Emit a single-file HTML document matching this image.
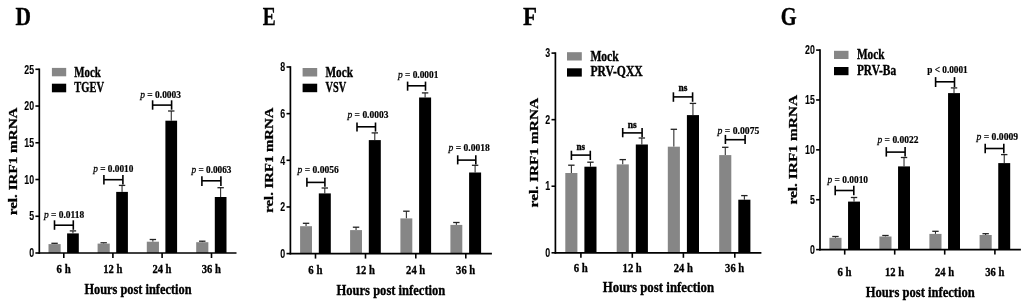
<!DOCTYPE html>
<html><head><meta charset="utf-8"><style>
html,body{margin:0;padding:0;background:#fff;}
svg{display:block;will-change:transform;}
</style></head><body>
<svg width="1024" height="308" viewBox="0 0 1024 308">
<rect width="1024" height="308" fill="#fff"/>
<text transform="translate(15.50,25.10) scale(0.8245,1)" font-family='"Liberation Serif", serif' font-weight="bold" font-size="26" stroke="#000" stroke-width="0.35">D</text>
<line x1="54.58" y1="244.10" x2="54.58" y2="243.30" stroke="#1a1a1a" stroke-width="1.0"/>
<line x1="51.38" y1="243.30" x2="57.78" y2="243.30" stroke="#222" stroke-width="1.3"/>
<rect x="48.50" y="244.10" width="12.15" height="8.90" fill="#868686"/>
<line x1="72.95" y1="233.40" x2="72.95" y2="230.90" stroke="#1a1a1a" stroke-width="1.0"/>
<line x1="69.75" y1="230.90" x2="76.15" y2="230.90" stroke="#222" stroke-width="1.3"/>
<rect x="67.10" y="233.40" width="11.70" height="19.60" fill="#000"/>
<line x1="63.80" y1="253.00" x2="63.80" y2="258.00" stroke="#000" stroke-width="1.6"/>
<text transform="translate(56.60,272.60) scale(0.8127,1)" font-family='"Liberation Serif", serif' font-weight="bold" font-size="13.3" stroke="#000" stroke-width="0.35">6 h</text>
<line x1="54.50" y1="225.20" x2="73.30" y2="225.20" stroke="#000" stroke-width="1.6"/>
<line x1="54.50" y1="220.30" x2="54.50" y2="229.80" stroke="#000" stroke-width="1.6"/>
<line x1="73.30" y1="220.30" x2="73.30" y2="229.80" stroke="#000" stroke-width="1.6"/>
<text transform="translate(43.98,217.50) scale(0.8999,1)" font-family='"Liberation Serif", serif' font-weight="bold" font-size="10.5" stroke="#000" stroke-width="0.2"><tspan font-style="italic" font-weight="normal" stroke-width="0.3">p</tspan> = 0.0118</text>
<line x1="103.68" y1="243.60" x2="103.68" y2="242.80" stroke="#1a1a1a" stroke-width="1.0"/>
<line x1="100.48" y1="242.80" x2="106.88" y2="242.80" stroke="#222" stroke-width="1.3"/>
<rect x="97.60" y="243.60" width="12.15" height="9.40" fill="#868686"/>
<line x1="122.05" y1="191.90" x2="122.05" y2="185.40" stroke="#1a1a1a" stroke-width="1.0"/>
<line x1="118.85" y1="185.40" x2="125.25" y2="185.40" stroke="#222" stroke-width="1.3"/>
<rect x="116.20" y="191.90" width="11.70" height="61.10" fill="#000"/>
<line x1="112.90" y1="253.00" x2="112.90" y2="258.00" stroke="#000" stroke-width="1.6"/>
<text transform="translate(103.20,272.60) scale(0.7958,1)" font-family='"Liberation Serif", serif' font-weight="bold" font-size="13.3" stroke="#000" stroke-width="0.35">12 h</text>
<line x1="103.90" y1="179.70" x2="122.90" y2="179.70" stroke="#000" stroke-width="1.6"/>
<line x1="103.90" y1="174.90" x2="103.90" y2="184.60" stroke="#000" stroke-width="1.6"/>
<line x1="122.90" y1="174.90" x2="122.90" y2="184.60" stroke="#000" stroke-width="1.6"/>
<text transform="translate(93.28,171.60) scale(0.8848,1)" font-family='"Liberation Serif", serif' font-weight="bold" font-size="10.5" stroke="#000" stroke-width="0.2"><tspan font-style="italic" font-weight="normal" stroke-width="0.3">p</tspan> = 0.0010</text>
<line x1="152.88" y1="241.70" x2="152.88" y2="239.50" stroke="#1a1a1a" stroke-width="1.0"/>
<line x1="149.68" y1="239.50" x2="156.07" y2="239.50" stroke="#222" stroke-width="1.3"/>
<rect x="146.80" y="241.70" width="12.15" height="11.30" fill="#868686"/>
<line x1="171.25" y1="120.70" x2="171.25" y2="111.00" stroke="#1a1a1a" stroke-width="1.0"/>
<line x1="168.05" y1="111.00" x2="174.45" y2="111.00" stroke="#222" stroke-width="1.3"/>
<rect x="165.40" y="120.70" width="11.70" height="132.30" fill="#000"/>
<line x1="162.10" y1="253.00" x2="162.10" y2="258.00" stroke="#000" stroke-width="1.6"/>
<text transform="translate(152.40,272.60) scale(0.7958,1)" font-family='"Liberation Serif", serif' font-weight="bold" font-size="13.3" stroke="#000" stroke-width="0.35">24 h</text>
<line x1="152.60" y1="105.10" x2="171.60" y2="105.10" stroke="#000" stroke-width="1.6"/>
<line x1="152.60" y1="100.30" x2="152.60" y2="109.70" stroke="#000" stroke-width="1.6"/>
<line x1="171.60" y1="100.30" x2="171.60" y2="109.70" stroke="#000" stroke-width="1.6"/>
<text transform="translate(140.28,98.30) scale(0.8978,1)" font-family='"Liberation Serif", serif' font-weight="bold" font-size="10.5" stroke="#000" stroke-width="0.2"><tspan font-style="italic" font-weight="normal" stroke-width="0.3">p</tspan> = 0.0003</text>
<line x1="202.27" y1="242.20" x2="202.27" y2="241.20" stroke="#1a1a1a" stroke-width="1.0"/>
<line x1="199.07" y1="241.20" x2="205.47" y2="241.20" stroke="#222" stroke-width="1.3"/>
<rect x="196.20" y="242.20" width="12.15" height="10.80" fill="#868686"/>
<line x1="220.65" y1="197.00" x2="220.65" y2="187.70" stroke="#1a1a1a" stroke-width="1.0"/>
<line x1="217.45" y1="187.70" x2="223.85" y2="187.70" stroke="#222" stroke-width="1.3"/>
<rect x="214.80" y="197.00" width="11.70" height="56.00" fill="#000"/>
<line x1="211.50" y1="253.00" x2="211.50" y2="258.00" stroke="#000" stroke-width="1.6"/>
<text transform="translate(201.80,272.60) scale(0.7958,1)" font-family='"Liberation Serif", serif' font-weight="bold" font-size="13.3" stroke="#000" stroke-width="0.35">36 h</text>
<line x1="201.90" y1="180.80" x2="220.90" y2="180.80" stroke="#000" stroke-width="1.6"/>
<line x1="201.90" y1="176.20" x2="201.90" y2="186.00" stroke="#000" stroke-width="1.6"/>
<line x1="220.90" y1="176.20" x2="220.90" y2="186.00" stroke="#000" stroke-width="1.6"/>
<text transform="translate(191.47,173.20) scale(0.8826,1)" font-family='"Liberation Serif", serif' font-weight="bold" font-size="10.5" stroke="#000" stroke-width="0.2"><tspan font-style="italic" font-weight="normal" stroke-width="0.3">p</tspan> = 0.0063</text>
<line x1="39.30" y1="68.50" x2="39.30" y2="253.80" stroke="#000" stroke-width="1.7"/>
<line x1="38.50" y1="253.00" x2="236.50" y2="253.00" stroke="#000" stroke-width="1.7"/>
<line x1="35.40" y1="253.00" x2="39.30" y2="253.00" stroke="#000" stroke-width="1.6"/>
<text transform="translate(29.20,257.20) scale(0.7368,1)" font-family='"Liberation Sans", sans-serif' font-weight="bold" font-size="12" stroke="#000" stroke-width="0.1">0</text>
<line x1="35.40" y1="216.26" x2="39.30" y2="216.26" stroke="#000" stroke-width="1.6"/>
<text transform="translate(29.20,220.46) scale(0.7368,1)" font-family='"Liberation Sans", sans-serif' font-weight="bold" font-size="12" stroke="#000" stroke-width="0.1">5</text>
<line x1="35.40" y1="179.52" x2="39.30" y2="179.52" stroke="#000" stroke-width="1.6"/>
<text transform="translate(24.30,183.72) scale(0.7341,1)" font-family='"Liberation Sans", sans-serif' font-weight="bold" font-size="12" stroke="#000" stroke-width="0.1">10</text>
<line x1="35.40" y1="142.78" x2="39.30" y2="142.78" stroke="#000" stroke-width="1.6"/>
<text transform="translate(24.30,146.98) scale(0.7341,1)" font-family='"Liberation Sans", sans-serif' font-weight="bold" font-size="12" stroke="#000" stroke-width="0.1">15</text>
<line x1="35.40" y1="106.04" x2="39.30" y2="106.04" stroke="#000" stroke-width="1.6"/>
<text transform="translate(24.30,110.24) scale(0.7341,1)" font-family='"Liberation Sans", sans-serif' font-weight="bold" font-size="12" stroke="#000" stroke-width="0.1">20</text>
<line x1="35.40" y1="69.30" x2="39.30" y2="69.30" stroke="#000" stroke-width="1.6"/>
<text transform="translate(24.30,73.50) scale(0.7341,1)" font-family='"Liberation Sans", sans-serif' font-weight="bold" font-size="12" stroke="#000" stroke-width="0.1">25</text>
<rect x="51.90" y="67.90" width="14.30" height="8.40" fill="#868686"/>
<rect x="51.90" y="83.70" width="14.30" height="8.60" fill="#000"/>
<text transform="translate(74.30,76.50) scale(0.7940,1)" font-family='"Liberation Serif", serif' font-weight="bold" font-size="13.7" stroke="#000" stroke-width="0.35">Mock</text>
<text transform="translate(74.30,91.80) scale(0.7671,1)" font-family='"Liberation Serif", serif' font-weight="bold" font-size="13.7" stroke="#000" stroke-width="0.35">TGEV</text>
<text transform="translate(17.00,215.30) scale(0.80,1) rotate(-90) scale(1.0112,1)" font-family='"Liberation Serif", serif' font-weight="bold" font-size="15" stroke="#000" stroke-width="0.35">rel. IRF1 mRNA</text>
<text transform="translate(84.40,294.20) scale(0.8246,1)" font-family='"Liberation Serif", serif' font-weight="bold" font-size="15" stroke="#000" stroke-width="0.35">Hours post infection</text>
<text transform="translate(262.70,25.10) scale(0.7493,1)" font-family='"Liberation Serif", serif' font-weight="bold" font-size="26" stroke="#000" stroke-width="0.35">E</text>
<line x1="306.05" y1="226.20" x2="306.05" y2="223.30" stroke="#1a1a1a" stroke-width="1.0"/>
<line x1="302.85" y1="223.30" x2="309.25" y2="223.30" stroke="#222" stroke-width="1.3"/>
<rect x="300.10" y="226.20" width="11.90" height="27.40" fill="#868686"/>
<line x1="324.80" y1="193.40" x2="324.80" y2="188.00" stroke="#1a1a1a" stroke-width="1.0"/>
<line x1="321.60" y1="188.00" x2="328.00" y2="188.00" stroke="#222" stroke-width="1.3"/>
<rect x="318.80" y="193.40" width="12.00" height="60.20" fill="#000"/>
<line x1="315.50" y1="253.60" x2="315.50" y2="258.60" stroke="#000" stroke-width="1.6"/>
<text transform="translate(308.30,273.60) scale(0.8127,1)" font-family='"Liberation Serif", serif' font-weight="bold" font-size="13.3" stroke="#000" stroke-width="0.35">6 h</text>
<line x1="306.90" y1="182.40" x2="324.90" y2="182.40" stroke="#000" stroke-width="1.6"/>
<line x1="306.90" y1="177.70" x2="306.90" y2="186.80" stroke="#000" stroke-width="1.6"/>
<line x1="324.90" y1="177.70" x2="324.90" y2="186.80" stroke="#000" stroke-width="1.6"/>
<text transform="translate(297.59,173.20) scale(0.9076,1)" font-family='"Liberation Serif", serif' font-weight="bold" font-size="10.5" stroke="#000" stroke-width="0.2"><tspan font-style="italic" font-weight="normal" stroke-width="0.3">p</tspan> = 0.0056</text>
<line x1="356.05" y1="230.10" x2="356.05" y2="227.20" stroke="#1a1a1a" stroke-width="1.0"/>
<line x1="352.85" y1="227.20" x2="359.25" y2="227.20" stroke="#222" stroke-width="1.3"/>
<rect x="350.10" y="230.10" width="11.90" height="23.50" fill="#868686"/>
<line x1="374.80" y1="140.10" x2="374.80" y2="132.90" stroke="#1a1a1a" stroke-width="1.0"/>
<line x1="371.60" y1="132.90" x2="378.00" y2="132.90" stroke="#222" stroke-width="1.3"/>
<rect x="368.80" y="140.10" width="12.00" height="113.50" fill="#000"/>
<line x1="365.50" y1="253.60" x2="365.50" y2="258.60" stroke="#000" stroke-width="1.6"/>
<text transform="translate(355.80,273.60) scale(0.7958,1)" font-family='"Liberation Serif", serif' font-weight="bold" font-size="13.3" stroke="#000" stroke-width="0.35">12 h</text>
<line x1="357.00" y1="126.80" x2="375.50" y2="126.80" stroke="#000" stroke-width="1.6"/>
<line x1="357.00" y1="122.50" x2="357.00" y2="131.60" stroke="#000" stroke-width="1.6"/>
<line x1="375.50" y1="122.50" x2="375.50" y2="131.60" stroke="#000" stroke-width="1.6"/>
<text transform="translate(347.49,118.00) scale(0.9043,1)" font-family='"Liberation Serif", serif' font-weight="bold" font-size="10.5" stroke="#000" stroke-width="0.2"><tspan font-style="italic" font-weight="normal" stroke-width="0.3">p</tspan> = 0.0003</text>
<line x1="406.35" y1="218.40" x2="406.35" y2="211.20" stroke="#1a1a1a" stroke-width="1.0"/>
<line x1="403.15" y1="211.20" x2="409.55" y2="211.20" stroke="#222" stroke-width="1.3"/>
<rect x="400.40" y="218.40" width="11.90" height="35.20" fill="#868686"/>
<line x1="425.10" y1="97.50" x2="425.10" y2="92.90" stroke="#1a1a1a" stroke-width="1.0"/>
<line x1="421.90" y1="92.90" x2="428.30" y2="92.90" stroke="#222" stroke-width="1.3"/>
<rect x="419.10" y="97.50" width="12.00" height="156.10" fill="#000"/>
<line x1="415.80" y1="253.60" x2="415.80" y2="258.60" stroke="#000" stroke-width="1.6"/>
<text transform="translate(406.10,273.60) scale(0.7958,1)" font-family='"Liberation Serif", serif' font-weight="bold" font-size="13.3" stroke="#000" stroke-width="0.35">24 h</text>
<line x1="407.60" y1="85.80" x2="425.50" y2="85.80" stroke="#000" stroke-width="1.6"/>
<line x1="407.60" y1="81.60" x2="407.60" y2="90.70" stroke="#000" stroke-width="1.6"/>
<line x1="425.50" y1="81.60" x2="425.50" y2="90.70" stroke="#000" stroke-width="1.6"/>
<text transform="translate(397.88,78.00) scale(0.8957,1)" font-family='"Liberation Serif", serif' font-weight="bold" font-size="10.5" stroke="#000" stroke-width="0.2"><tspan font-style="italic" font-weight="normal" stroke-width="0.3">p</tspan> = 0.0001</text>
<line x1="456.35" y1="224.90" x2="456.35" y2="222.50" stroke="#1a1a1a" stroke-width="1.0"/>
<line x1="453.15" y1="222.50" x2="459.55" y2="222.50" stroke="#222" stroke-width="1.3"/>
<rect x="450.40" y="224.90" width="11.90" height="28.70" fill="#868686"/>
<line x1="475.10" y1="172.50" x2="475.10" y2="165.30" stroke="#1a1a1a" stroke-width="1.0"/>
<line x1="471.90" y1="165.30" x2="478.30" y2="165.30" stroke="#222" stroke-width="1.3"/>
<rect x="469.10" y="172.50" width="12.00" height="81.10" fill="#000"/>
<line x1="465.80" y1="253.60" x2="465.80" y2="258.60" stroke="#000" stroke-width="1.6"/>
<text transform="translate(456.10,273.60) scale(0.7958,1)" font-family='"Liberation Serif", serif' font-weight="bold" font-size="13.3" stroke="#000" stroke-width="0.35">36 h</text>
<line x1="457.70" y1="160.10" x2="475.80" y2="160.10" stroke="#000" stroke-width="1.6"/>
<line x1="457.70" y1="155.30" x2="457.70" y2="164.40" stroke="#000" stroke-width="1.6"/>
<line x1="475.80" y1="155.30" x2="475.80" y2="164.40" stroke="#000" stroke-width="1.6"/>
<text transform="translate(448.49,151.00) scale(0.9109,1)" font-family='"Liberation Serif", serif' font-weight="bold" font-size="10.5" stroke="#000" stroke-width="0.2"><tspan font-style="italic" font-weight="normal" stroke-width="0.3">p</tspan> = 0.0018</text>
<line x1="290.40" y1="66.20" x2="290.40" y2="254.40" stroke="#000" stroke-width="1.7"/>
<line x1="289.60" y1="253.60" x2="491.90" y2="253.60" stroke="#000" stroke-width="1.7"/>
<line x1="286.50" y1="253.60" x2="290.40" y2="253.60" stroke="#000" stroke-width="1.6"/>
<text transform="translate(280.30,257.80) scale(0.7368,1)" font-family='"Liberation Sans", sans-serif' font-weight="bold" font-size="12" stroke="#000" stroke-width="0.1">0</text>
<line x1="286.50" y1="206.95" x2="290.40" y2="206.95" stroke="#000" stroke-width="1.6"/>
<text transform="translate(280.30,211.15) scale(0.7368,1)" font-family='"Liberation Sans", sans-serif' font-weight="bold" font-size="12" stroke="#000" stroke-width="0.1">2</text>
<line x1="286.50" y1="160.30" x2="290.40" y2="160.30" stroke="#000" stroke-width="1.6"/>
<text transform="translate(280.30,164.50) scale(0.7368,1)" font-family='"Liberation Sans", sans-serif' font-weight="bold" font-size="12" stroke="#000" stroke-width="0.1">4</text>
<line x1="286.50" y1="113.65" x2="290.40" y2="113.65" stroke="#000" stroke-width="1.6"/>
<text transform="translate(280.30,117.85) scale(0.7368,1)" font-family='"Liberation Sans", sans-serif' font-weight="bold" font-size="12" stroke="#000" stroke-width="0.1">6</text>
<line x1="286.50" y1="67.00" x2="290.40" y2="67.00" stroke="#000" stroke-width="1.6"/>
<text transform="translate(280.30,71.20) scale(0.7368,1)" font-family='"Liberation Sans", sans-serif' font-weight="bold" font-size="12" stroke="#000" stroke-width="0.1">8</text>
<rect x="302.60" y="68.00" width="14.60" height="8.50" fill="#868686"/>
<rect x="302.60" y="83.70" width="14.60" height="8.50" fill="#000"/>
<text transform="translate(325.50,76.80) scale(0.8209,1)" font-family='"Liberation Serif", serif' font-weight="bold" font-size="13.7" stroke="#000" stroke-width="0.35">Mock</text>
<text transform="translate(325.50,91.90) scale(0.7518,1)" font-family='"Liberation Serif", serif' font-weight="bold" font-size="13.7" stroke="#000" stroke-width="0.35">VSV</text>
<text transform="translate(273.30,212.80) scale(0.80,1) rotate(-90) scale(0.9860,1)" font-family='"Liberation Serif", serif' font-weight="bold" font-size="15" stroke="#000" stroke-width="0.35">rel. IRF1 mRNA</text>
<text transform="translate(336.50,295.00) scale(0.8377,1)" font-family='"Liberation Serif", serif' font-weight="bold" font-size="15" stroke="#000" stroke-width="0.35">Hours post infection</text>
<text transform="translate(523.00,25.00) scale(0.8805,1)" font-family='"Liberation Serif", serif' font-weight="bold" font-size="26" stroke="#000" stroke-width="0.35">F</text>
<line x1="571.35" y1="173.00" x2="571.35" y2="165.20" stroke="#1a1a1a" stroke-width="1.0"/>
<line x1="568.15" y1="165.20" x2="574.55" y2="165.20" stroke="#222" stroke-width="1.3"/>
<rect x="565.30" y="173.00" width="12.10" height="79.80" fill="#868686"/>
<line x1="590.45" y1="166.70" x2="590.45" y2="162.20" stroke="#1a1a1a" stroke-width="1.0"/>
<line x1="587.25" y1="162.20" x2="593.65" y2="162.20" stroke="#222" stroke-width="1.3"/>
<rect x="584.40" y="166.70" width="12.10" height="86.10" fill="#000"/>
<line x1="580.90" y1="252.80" x2="580.90" y2="257.80" stroke="#000" stroke-width="1.6"/>
<text transform="translate(573.70,271.80) scale(0.8127,1)" font-family='"Liberation Serif", serif' font-weight="bold" font-size="13.3" stroke="#000" stroke-width="0.35">6 h</text>
<line x1="571.40" y1="155.10" x2="590.30" y2="155.10" stroke="#000" stroke-width="1.6"/>
<line x1="571.40" y1="150.70" x2="571.40" y2="160.00" stroke="#000" stroke-width="1.6"/>
<line x1="590.30" y1="150.70" x2="590.30" y2="160.00" stroke="#000" stroke-width="1.6"/>
<text transform="translate(576.50,149.60) scale(0.8269,1)" font-family='"Liberation Serif", serif' font-weight="bold" font-size="11" stroke="#000" stroke-width="0.4">ns</text>
<line x1="622.75" y1="164.40" x2="622.75" y2="159.60" stroke="#1a1a1a" stroke-width="1.0"/>
<line x1="619.55" y1="159.60" x2="625.95" y2="159.60" stroke="#222" stroke-width="1.3"/>
<rect x="616.70" y="164.40" width="12.10" height="88.40" fill="#868686"/>
<line x1="641.85" y1="144.50" x2="641.85" y2="138.00" stroke="#1a1a1a" stroke-width="1.0"/>
<line x1="638.65" y1="138.00" x2="645.05" y2="138.00" stroke="#222" stroke-width="1.3"/>
<rect x="635.80" y="144.50" width="12.10" height="108.30" fill="#000"/>
<line x1="632.30" y1="252.80" x2="632.30" y2="257.80" stroke="#000" stroke-width="1.6"/>
<text transform="translate(622.60,271.80) scale(0.7958,1)" font-family='"Liberation Serif", serif' font-weight="bold" font-size="13.3" stroke="#000" stroke-width="0.35">12 h</text>
<line x1="622.70" y1="132.90" x2="642.10" y2="132.90" stroke="#000" stroke-width="1.6"/>
<line x1="622.70" y1="128.00" x2="622.70" y2="137.30" stroke="#000" stroke-width="1.6"/>
<line x1="642.10" y1="128.00" x2="642.10" y2="137.30" stroke="#000" stroke-width="1.6"/>
<text transform="translate(627.80,127.50) scale(0.8558,1)" font-family='"Liberation Serif", serif' font-weight="bold" font-size="11" stroke="#000" stroke-width="0.4">ns</text>
<line x1="673.85" y1="146.70" x2="673.85" y2="129.30" stroke="#1a1a1a" stroke-width="1.0"/>
<line x1="670.65" y1="129.30" x2="677.05" y2="129.30" stroke="#222" stroke-width="1.3"/>
<rect x="667.80" y="146.70" width="12.10" height="106.10" fill="#868686"/>
<line x1="692.95" y1="115.10" x2="692.95" y2="103.40" stroke="#1a1a1a" stroke-width="1.0"/>
<line x1="689.75" y1="103.40" x2="696.15" y2="103.40" stroke="#222" stroke-width="1.3"/>
<rect x="686.90" y="115.10" width="12.10" height="137.70" fill="#000"/>
<line x1="683.40" y1="252.80" x2="683.40" y2="257.80" stroke="#000" stroke-width="1.6"/>
<text transform="translate(673.70,271.80) scale(0.7958,1)" font-family='"Liberation Serif", serif' font-weight="bold" font-size="13.3" stroke="#000" stroke-width="0.35">24 h</text>
<line x1="673.40" y1="96.90" x2="692.60" y2="96.90" stroke="#000" stroke-width="1.6"/>
<line x1="673.40" y1="92.30" x2="673.40" y2="101.80" stroke="#000" stroke-width="1.6"/>
<line x1="692.60" y1="92.30" x2="692.60" y2="101.80" stroke="#000" stroke-width="1.6"/>
<text transform="translate(678.50,91.40) scale(0.8558,1)" font-family='"Liberation Serif", serif' font-weight="bold" font-size="11" stroke="#000" stroke-width="0.4">ns</text>
<line x1="725.25" y1="155.10" x2="725.25" y2="147.30" stroke="#1a1a1a" stroke-width="1.0"/>
<line x1="722.05" y1="147.30" x2="728.45" y2="147.30" stroke="#222" stroke-width="1.3"/>
<rect x="719.20" y="155.10" width="12.10" height="97.70" fill="#868686"/>
<line x1="744.35" y1="199.70" x2="744.35" y2="195.60" stroke="#1a1a1a" stroke-width="1.0"/>
<line x1="741.15" y1="195.60" x2="747.55" y2="195.60" stroke="#222" stroke-width="1.3"/>
<rect x="738.30" y="199.70" width="12.10" height="53.10" fill="#000"/>
<line x1="734.80" y1="252.80" x2="734.80" y2="257.80" stroke="#000" stroke-width="1.6"/>
<text transform="translate(725.10,271.80) scale(0.7958,1)" font-family='"Liberation Serif", serif' font-weight="bold" font-size="13.3" stroke="#000" stroke-width="0.35">36 h</text>
<line x1="725.40" y1="139.70" x2="745.10" y2="139.70" stroke="#000" stroke-width="1.6"/>
<line x1="725.40" y1="134.90" x2="725.40" y2="144.00" stroke="#000" stroke-width="1.6"/>
<line x1="745.10" y1="134.90" x2="745.10" y2="144.00" stroke="#000" stroke-width="1.6"/>
<text transform="translate(717.50,133.60) scale(0.9239,1)" font-family='"Liberation Serif", serif' font-weight="bold" font-size="10.5" stroke="#000" stroke-width="0.2"><tspan font-style="italic" font-weight="normal" stroke-width="0.3">p</tspan> = 0.0075</text>
<line x1="555.40" y1="52.30" x2="555.40" y2="253.60" stroke="#000" stroke-width="1.7"/>
<line x1="554.60" y1="252.80" x2="761.40" y2="252.80" stroke="#000" stroke-width="1.7"/>
<line x1="551.50" y1="252.80" x2="555.40" y2="252.80" stroke="#000" stroke-width="1.6"/>
<text transform="translate(545.30,257.00) scale(0.7368,1)" font-family='"Liberation Sans", sans-serif' font-weight="bold" font-size="12" stroke="#000" stroke-width="0.1">0</text>
<line x1="551.50" y1="186.23" x2="555.40" y2="186.23" stroke="#000" stroke-width="1.6"/>
<text transform="translate(545.30,190.43) scale(0.7368,1)" font-family='"Liberation Sans", sans-serif' font-weight="bold" font-size="12" stroke="#000" stroke-width="0.1">1</text>
<line x1="551.50" y1="119.67" x2="555.40" y2="119.67" stroke="#000" stroke-width="1.6"/>
<text transform="translate(545.30,123.87) scale(0.7368,1)" font-family='"Liberation Sans", sans-serif' font-weight="bold" font-size="12" stroke="#000" stroke-width="0.1">2</text>
<line x1="551.50" y1="53.10" x2="555.40" y2="53.10" stroke="#000" stroke-width="1.6"/>
<text transform="translate(545.30,57.30) scale(0.7368,1)" font-family='"Liberation Sans", sans-serif' font-weight="bold" font-size="12" stroke="#000" stroke-width="0.1">3</text>
<rect x="567.00" y="52.20" width="14.80" height="8.30" fill="#868686"/>
<rect x="567.00" y="68.30" width="14.80" height="8.30" fill="#000"/>
<text transform="translate(590.40,60.60) scale(0.8448,1)" font-family='"Liberation Serif", serif' font-weight="bold" font-size="13.7" stroke="#000" stroke-width="0.35">Mock</text>
<text transform="translate(590.40,76.30) scale(0.8483,1)" font-family='"Liberation Serif", serif' font-weight="bold" font-size="13.7" stroke="#000" stroke-width="0.35">PRV-QXX</text>
<text transform="translate(537.50,207.40) scale(0.80,1) rotate(-90) scale(1.0272,1)" font-family='"Liberation Serif", serif' font-weight="bold" font-size="15" stroke="#000" stroke-width="0.35">rel. IRF1 mRNA</text>
<text transform="translate(602.70,292.00) scale(0.8577,1)" font-family='"Liberation Serif", serif' font-weight="bold" font-size="15" stroke="#000" stroke-width="0.35">Hours post infection</text>
<text transform="translate(780.70,25.10) scale(0.7871,1)" font-family='"Liberation Serif", serif' font-weight="bold" font-size="26" stroke="#000" stroke-width="0.35">G</text>
<line x1="835.45" y1="237.80" x2="835.45" y2="236.50" stroke="#1a1a1a" stroke-width="1.0"/>
<line x1="832.25" y1="236.50" x2="838.65" y2="236.50" stroke="#222" stroke-width="1.3"/>
<rect x="829.40" y="237.80" width="12.10" height="11.80" fill="#868686"/>
<line x1="854.03" y1="201.60" x2="854.03" y2="197.50" stroke="#1a1a1a" stroke-width="1.0"/>
<line x1="850.83" y1="197.50" x2="857.23" y2="197.50" stroke="#222" stroke-width="1.3"/>
<rect x="848.05" y="201.60" width="11.95" height="48.00" fill="#000"/>
<line x1="844.70" y1="249.60" x2="844.70" y2="254.60" stroke="#000" stroke-width="1.6"/>
<text transform="translate(837.50,275.70) scale(0.8127,1)" font-family='"Liberation Serif", serif' font-weight="bold" font-size="13.3" stroke="#000" stroke-width="0.35">6 h</text>
<line x1="835.20" y1="190.50" x2="853.80" y2="190.50" stroke="#000" stroke-width="1.6"/>
<line x1="835.20" y1="185.80" x2="835.20" y2="195.30" stroke="#000" stroke-width="1.6"/>
<line x1="853.80" y1="185.80" x2="853.80" y2="195.30" stroke="#000" stroke-width="1.6"/>
<text transform="translate(827.48,183.00) scale(0.8957,1)" font-family='"Liberation Serif", serif' font-weight="bold" font-size="10.5" stroke="#000" stroke-width="0.2"><tspan font-style="italic" font-weight="normal" stroke-width="0.3">p</tspan> = 0.0010</text>
<line x1="885.45" y1="236.50" x2="885.45" y2="235.50" stroke="#1a1a1a" stroke-width="1.0"/>
<line x1="882.25" y1="235.50" x2="888.65" y2="235.50" stroke="#222" stroke-width="1.3"/>
<rect x="879.40" y="236.50" width="12.10" height="13.10" fill="#868686"/>
<line x1="904.03" y1="166.40" x2="904.03" y2="157.50" stroke="#1a1a1a" stroke-width="1.0"/>
<line x1="900.83" y1="157.50" x2="907.23" y2="157.50" stroke="#222" stroke-width="1.3"/>
<rect x="898.05" y="166.40" width="11.95" height="83.20" fill="#000"/>
<line x1="894.70" y1="249.60" x2="894.70" y2="254.60" stroke="#000" stroke-width="1.6"/>
<text transform="translate(885.00,275.70) scale(0.7958,1)" font-family='"Liberation Serif", serif' font-weight="bold" font-size="13.3" stroke="#000" stroke-width="0.35">12 h</text>
<line x1="886.30" y1="152.10" x2="905.10" y2="152.10" stroke="#000" stroke-width="1.6"/>
<line x1="886.30" y1="147.10" x2="886.30" y2="156.60" stroke="#000" stroke-width="1.6"/>
<line x1="905.10" y1="147.10" x2="905.10" y2="156.60" stroke="#000" stroke-width="1.6"/>
<text transform="translate(877.49,143.20) scale(0.9043,1)" font-family='"Liberation Serif", serif' font-weight="bold" font-size="10.5" stroke="#000" stroke-width="0.2"><tspan font-style="italic" font-weight="normal" stroke-width="0.3">p</tspan> = 0.0022</text>
<line x1="935.45" y1="233.90" x2="935.45" y2="231.30" stroke="#1a1a1a" stroke-width="1.0"/>
<line x1="932.25" y1="231.30" x2="938.65" y2="231.30" stroke="#222" stroke-width="1.3"/>
<rect x="929.40" y="233.90" width="12.10" height="15.70" fill="#868686"/>
<line x1="954.03" y1="93.10" x2="954.03" y2="87.90" stroke="#1a1a1a" stroke-width="1.0"/>
<line x1="950.83" y1="87.90" x2="957.23" y2="87.90" stroke="#222" stroke-width="1.3"/>
<rect x="948.05" y="93.10" width="11.95" height="156.50" fill="#000"/>
<line x1="944.70" y1="249.60" x2="944.70" y2="254.60" stroke="#000" stroke-width="1.6"/>
<text transform="translate(935.00,275.70) scale(0.7958,1)" font-family='"Liberation Serif", serif' font-weight="bold" font-size="13.3" stroke="#000" stroke-width="0.35">24 h</text>
<line x1="935.60" y1="81.80" x2="954.50" y2="81.80" stroke="#000" stroke-width="1.6"/>
<line x1="935.60" y1="77.10" x2="935.60" y2="87.00" stroke="#000" stroke-width="1.6"/>
<line x1="954.50" y1="77.10" x2="954.50" y2="87.00" stroke="#000" stroke-width="1.6"/>
<text transform="translate(927.20,73.20) scale(0.8816,1)" font-family='"Liberation Serif", serif' font-weight="bold" font-size="10.5" stroke="#000" stroke-width="0.2"><tspan font-style="normal" font-weight="bold" stroke-width="0.2">p</tspan> < 0.0001</text>
<line x1="985.65" y1="235.00" x2="985.65" y2="233.70" stroke="#1a1a1a" stroke-width="1.0"/>
<line x1="982.45" y1="233.70" x2="988.85" y2="233.70" stroke="#222" stroke-width="1.3"/>
<rect x="979.60" y="235.00" width="12.10" height="14.60" fill="#868686"/>
<line x1="1004.22" y1="163.10" x2="1004.22" y2="154.60" stroke="#1a1a1a" stroke-width="1.0"/>
<line x1="1001.02" y1="154.60" x2="1007.42" y2="154.60" stroke="#222" stroke-width="1.3"/>
<rect x="998.25" y="163.10" width="11.95" height="86.50" fill="#000"/>
<line x1="994.90" y1="249.60" x2="994.90" y2="254.60" stroke="#000" stroke-width="1.6"/>
<text transform="translate(985.20,275.70) scale(0.7958,1)" font-family='"Liberation Serif", serif' font-weight="bold" font-size="13.3" stroke="#000" stroke-width="0.35">36 h</text>
<line x1="985.20" y1="148.50" x2="1003.80" y2="148.50" stroke="#000" stroke-width="1.6"/>
<line x1="985.20" y1="143.80" x2="985.20" y2="153.30" stroke="#000" stroke-width="1.6"/>
<line x1="1003.80" y1="143.80" x2="1003.80" y2="153.30" stroke="#000" stroke-width="1.6"/>
<text transform="translate(976.50,140.30) scale(0.9174,1)" font-family='"Liberation Serif", serif' font-weight="bold" font-size="10.5" stroke="#000" stroke-width="0.2"><tspan font-style="italic" font-weight="normal" stroke-width="0.3">p</tspan> = 0.0009</text>
<line x1="820.00" y1="49.30" x2="820.00" y2="250.40" stroke="#000" stroke-width="1.7"/>
<line x1="819.20" y1="249.60" x2="1020.90" y2="249.60" stroke="#000" stroke-width="1.7"/>
<line x1="816.10" y1="249.60" x2="820.00" y2="249.60" stroke="#000" stroke-width="1.6"/>
<text transform="translate(809.90,253.80) scale(0.7368,1)" font-family='"Liberation Sans", sans-serif' font-weight="bold" font-size="12" stroke="#000" stroke-width="0.1">0</text>
<line x1="816.10" y1="199.72" x2="820.00" y2="199.72" stroke="#000" stroke-width="1.6"/>
<text transform="translate(809.90,203.92) scale(0.7368,1)" font-family='"Liberation Sans", sans-serif' font-weight="bold" font-size="12" stroke="#000" stroke-width="0.1">5</text>
<line x1="816.10" y1="149.85" x2="820.00" y2="149.85" stroke="#000" stroke-width="1.6"/>
<text transform="translate(805.00,154.05) scale(0.7341,1)" font-family='"Liberation Sans", sans-serif' font-weight="bold" font-size="12" stroke="#000" stroke-width="0.1">10</text>
<line x1="816.10" y1="99.97" x2="820.00" y2="99.97" stroke="#000" stroke-width="1.6"/>
<text transform="translate(805.00,104.17) scale(0.7341,1)" font-family='"Liberation Sans", sans-serif' font-weight="bold" font-size="12" stroke="#000" stroke-width="0.1">15</text>
<line x1="816.10" y1="50.10" x2="820.00" y2="50.10" stroke="#000" stroke-width="1.6"/>
<text transform="translate(805.00,54.30) scale(0.7341,1)" font-family='"Liberation Sans", sans-serif' font-weight="bold" font-size="12" stroke="#000" stroke-width="0.1">20</text>
<rect x="834.00" y="50.80" width="14.50" height="8.20" fill="#868686"/>
<rect x="834.00" y="67.00" width="14.50" height="8.20" fill="#000"/>
<text transform="translate(856.90,59.00) scale(0.8239,1)" font-family='"Liberation Serif", serif' font-weight="bold" font-size="13.7" stroke="#000" stroke-width="0.35">Mock</text>
<text transform="translate(856.90,75.00) scale(0.8326,1)" font-family='"Liberation Serif", serif' font-weight="bold" font-size="13.7" stroke="#000" stroke-width="0.35">PRV-Ba</text>
<text transform="translate(796.90,204.60) scale(0.80,1) rotate(-90) scale(1.0290,1)" font-family='"Liberation Serif", serif' font-weight="bold" font-size="15" stroke="#000" stroke-width="0.35">rel. IRF1 mRNA</text>
<text transform="translate(865.70,296.80) scale(0.8400,1)" font-family='"Liberation Serif", serif' font-weight="bold" font-size="15" stroke="#000" stroke-width="0.35">Hours post infection</text>
</svg>
</body></html>
